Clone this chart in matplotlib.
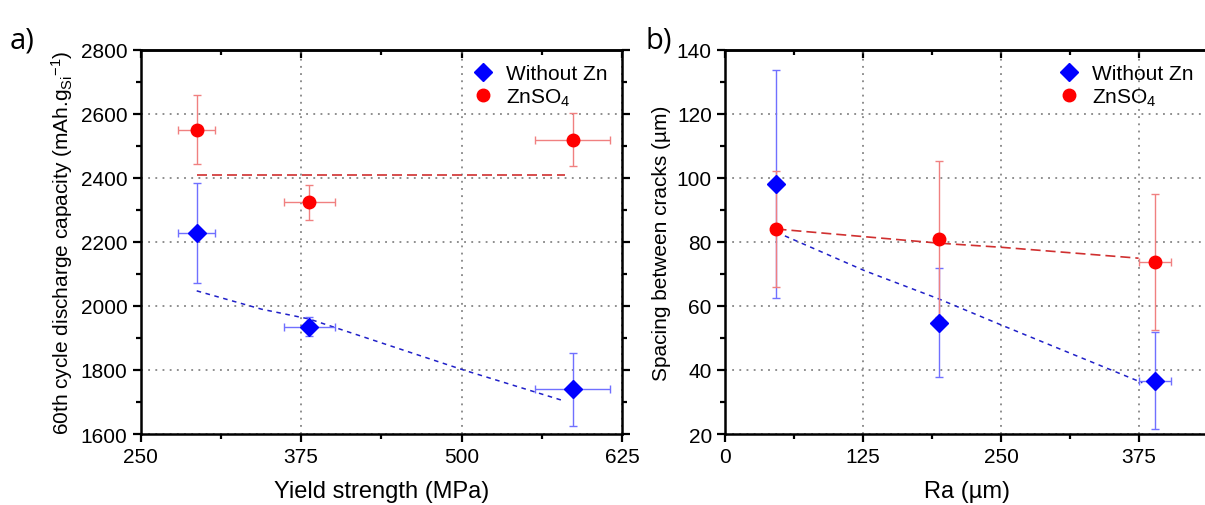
import matplotlib
matplotlib.use("Agg")
import matplotlib.pyplot as plt
from matplotlib.ticker import MultipleLocator

plt.rcParams['font.family'] = ['Liberation Sans', 'DejaVu Sans']
plt.rcParams['mathtext.fontset'] = 'custom'
plt.rcParams['mathtext.rm'] = 'Liberation Sans'
plt.rcParams['mathtext.it'] = 'Liberation Sans:italic'

# panel a) capacity vs yield strength
ys_nozn = [293.6, 381.4, 586.6]
ys_nozn_err = [14.5, 20, 29.4]
cap_nozn = [2228, 1935, 1739]
cap_nozn_err = [157, 30, 113]

ys_znso4 = [293.6, 381.4, 586.6]
ys_znso4_err = [14.5, 20, 29.4]
cap_znso4 = [2550, 2323, 2519]
cap_znso4_err = [108, 56, 83]

fit_a_nozn_x = [293.6, 343.9, 381.4, 500.6, 579.3]
fit_a_nozn_y = [2047, 1990, 1959, 1801, 1704]
fit_a_znso4_x = [293.6, 580.8]
fit_a_znso4_y = [2410, 2410]

# panel b) crack spacing vs Ra
ra_nozn = [46.6, 193.5, 389.3]
ra_nozn_err = [0, 0, 14.5]
sp_nozn = [98.1, 54.7, 36.7]
sp_nozn_err = [35.5, 17, 15]

ra_znso4 = [46.6, 193.5, 389.3]
ra_znso4_err = [0, 0, 14.5]
sp_znso4 = [84.0, 80.9, 73.8]
sp_znso4_err = [18.2, 24.3, 21.2]

fit_b_nozn_x = [46.6, 126.4, 193.5, 250.5, 366.0, 378.0]
fit_b_nozn_y = [83.0, 71.0, 62.2, 54.0, 37.7, 36.0]
fit_b_znso4_x = [46.6, 193.5, 250.5, 374.6]
fit_b_znso4_y = [84.0, 79.6, 78.3, 74.9]

BLUE = '#0000ff'
RED = '#ff0000'
GRID = dict(color='#707070', linestyle=(0, (1.2, 3.5)), linewidth=1.1)


def draw_panel(ax, x1, x1e, y1, y1e, x2, x2e, y2, y2e, f1x, f1y, f2x, f2y):
    ax.plot(f1x, f1y, color='#2020c8', lw=1.1, linestyle=(0, (3, 3)), zorder=2)
    ax.plot(f2x, f2y, color='#d03030', lw=1.2, linestyle=(0, (6, 3)), zorder=2)
    ax.errorbar(x1, y1, xerr=x1e, yerr=y1e, fmt='none', ecolor='#7070ff',
                elinewidth=1.0, capsize=3, capthick=1.0, zorder=3)
    ax.errorbar(x2, y2, xerr=x2e, yerr=y2e, fmt='none', ecolor='#f08080',
                elinewidth=1.0, capsize=3, capthick=1.0, zorder=3)
    ax.plot(x1, y1, 'D', color=BLUE, ms=9, mec=BLUE, label='Without Zn', zorder=4)
    ax.plot(x2, y2, 'o', color=RED, ms=9, mec=RED, label='ZnSO$_4$', zorder=4)
    ax.grid(True, which='major', **GRID)
    for s in ax.spines.values():
        s.set_linewidth(1.8)
    ax.tick_params(which='both', direction='out', labelsize=15, right=True, width=1.6)
    ax.tick_params(which='major', length=6)
    ax.tick_params(which='minor', length=3.5)
    top = ax.secondary_xaxis('top')
    top.set_xticks(ax.get_xticks())
    top.xaxis.set_minor_locator(ax.xaxis.get_minor_locator())
    top.tick_params(which='both', direction='in', labeltop=False, width=1.6)
    top.tick_params(which='major', length=6)
    top.tick_params(which='minor', length=3.5)
    top.spines['top'].set_linewidth(1.8)
    leg = ax.legend(loc='upper right', frameon=False, fontsize=15, handletextpad=0.5,
                    labelspacing=0.15, borderaxespad=0.3, handlelength=1.2)
    return leg


fig = plt.figure(figsize=(12.05, 5.06), dpi=100)

ax1 = fig.add_axes([0.1168, 0.1403, 0.3994, 0.7595])
ax1.set_xlim(250, 625)
ax1.set_ylim(1600, 2800)
ax1.xaxis.set_major_locator(MultipleLocator(125))
ax1.xaxis.set_minor_locator(MultipleLocator(62.5))
ax1.yaxis.set_major_locator(MultipleLocator(200))
ax1.yaxis.set_minor_locator(MultipleLocator(100))
draw_panel(ax1, ys_nozn, ys_nozn_err, cap_nozn, cap_nozn_err,
           ys_znso4, ys_znso4_err, cap_znso4, cap_znso4_err,
           fit_a_nozn_x, fit_a_nozn_y, fit_a_znso4_x, fit_a_znso4_y)
ax1.set_xlabel('Yield strength (MPa)', fontsize=17, labelpad=10)
ax1.set_ylabel(r'60th cycle discharge capacity (mAh.g$_{\mathrm{Si}}$$^{-1}$)', fontsize=15, labelpad=4)

ax2 = fig.add_axes([0.6017, 0.1403, 0.4008, 0.7595])
ax2.set_xlim(0, 437.5)
ax2.set_ylim(20, 140)
ax2.xaxis.set_major_locator(MultipleLocator(125))
ax2.xaxis.set_minor_locator(MultipleLocator(62.5))
ax2.yaxis.set_major_locator(MultipleLocator(20))
ax2.yaxis.set_minor_locator(MultipleLocator(10))
draw_panel(ax2, ra_nozn, ra_nozn_err, sp_nozn, sp_nozn_err,
           ra_znso4, ra_znso4_err, sp_znso4, sp_znso4_err,
           fit_b_nozn_x, fit_b_nozn_y, fit_b_znso4_x, fit_b_znso4_y)
ax2.set_xlabel('Ra (µm)', fontsize=17, labelpad=10)
ax2.set_ylabel('Spacing between cracks (µm)', fontsize=15, labelpad=4)

fig.text(0.008, 0.905, 'a)', fontsize=21, family=['Open Sans', 'DejaVu Sans'])
fig.text(0.536, 0.905, 'b)', fontsize=21, family=['Open Sans', 'DejaVu Sans'])

fig.savefig('out.png', dpi=100)
